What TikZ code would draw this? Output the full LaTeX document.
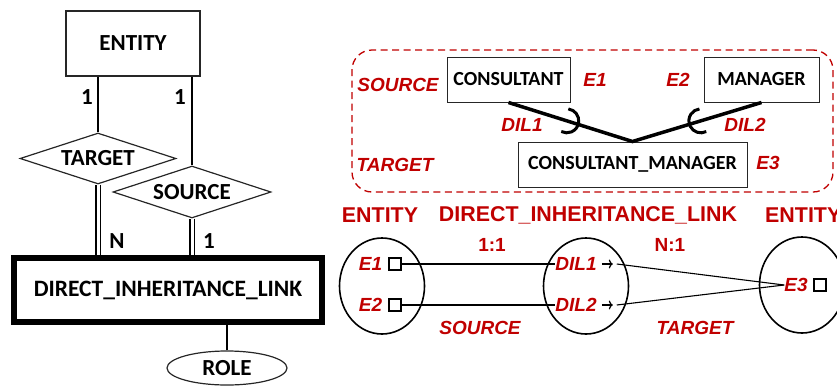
\documentclass[tikz,border=0pt]{standalone}
\usepackage{fontspec}
\setmainfont{Carlito}
\newfontfamily\arialfont{Liberation Sans}
\usetikzlibrary{shapes.geometric,calc,arrows.meta}
\definecolor{dred}{RGB}{192,0,0}
\tikzset{
  er/.style={draw=black!85, line width=1.2pt, inner sep=0pt, font=\fontsize{23}{26}\selectfont\bfseries},
  relbox/.style={er, diamond, shape aspect=3.1},
  lbl/.style={inner sep=0pt, font=\fontsize{23}{26}\selectfont\bfseries},
  cbox/.style={draw=black!85, line width=1pt, inner sep=0pt, minimum height=45pt, font=\fontsize{20}{24}\selectfont\bfseries},
  rtxt/.style={text=dred, inner sep=0pt, font=\arialfont\fontsize{19}{22}\selectfont\bfseries\itshape},
  rhead/.style={text=dred, inner sep=0pt, font=\arialfont\fontsize{21.4}{24}\selectfont\bfseries},
  rnum/.style={text=dred, inner sep=0pt, font=\arialfont\fontsize{19}{22}\selectfont\bfseries},
  setc/.style={draw, ellipse, line width=1.6pt, minimum width=85pt, minimum height=96pt, inner sep=0pt},
  elem/.style={draw, line width=2pt, minimum size=12pt, inner sep=0pt},
  link/.style={line width=1.1pt},
  inh/.style={line width=3.5pt},
  hook/.style={line width=3pt},
  tip/.style={line width=1.2pt, -{To[length=4pt,width=9pt]}},
}
\begin{document}
\begin{tikzpicture}[x=1pt,y=1pt]
\useasboundingbox (0,0) rectangle (837,-386);

% ---- ER schema ----
\node[er, minimum width=134pt, minimum height=65pt] (entity) at (133,-43.5) {ENTITY};
\node[relbox, minimum width=156pt, minimum height=51pt] (target) at (98,-158.5) {TARGET};
\node[relbox, minimum width=158pt, minimum height=52pt] (source) at (192,-192) {SOURCE};
\node[draw, line width=6pt, minimum width=308pt, minimum height=64pt, inner sep=0pt,
      font=\fontsize{23.5}{26}\selectfont\bfseries] (dil) at (168,-290) {DIRECT\_INHERITANCE\_LINK};
\node[er, ellipse, minimum width=120pt, minimum height=34pt] (role) at (227,-368) {ROLE};

\draw[link] (target.north) -- (target.north |- entity.south);
\draw[link] (source.north) -- (source.north |- entity.south);
\draw[link, double, double distance=3pt] (target.south) -- (target.south |- dil.north);
\draw[link, double, double distance=3pt] (source.south) -- (source.south |- dil.north);
\draw[link] (role.north) -- (role.north |- dil.south);

\node[lbl] (c1) at (87,-97) {1};
\node[lbl] (c2) at (180,-97) {1};
\node[lbl] (c3) at (117,-241) {N};
\node[lbl] (c4) at (209,-241) {1};

% ---- instance example ----
\node[draw=dred, line width=1.3pt, dash pattern=on 7pt off 4.5pt, rounded corners=20pt,
      minimum width=481pt, minimum height=142pt, inner sep=0pt] (group) at (592.5,-121) {};
\node[rtxt] (srcl) at (398,-85) {SOURCE};
\node[rtxt] (tgtl) at (395,-165) {TARGET};
\node[cbox, minimum width=123pt] (cons) at (508.5,-79.5) {CONSULTANT};
\node[cbox, minimum width=115pt] (mgr) at (761.5,-79.5) {MANAGER};
\node[cbox, minimum width=229pt] (cm) at (632.5,-164.5) {CONSULTANT\_MANAGER};
\node[rtxt] (te1) at (595,-80) {E1};
\node[rtxt] (te2) at (678,-80) {E2};
\node[rtxt] (te3) at (768,-163) {E3};
\node[rtxt] (tdil1) at (522,-125) {DIL1};
\node[rtxt] (tdil2) at (745,-125) {DIL2};

\draw[inh] (cons.south) -- (cm.north) -- (mgr.south);
\path (cons.south) -- (cm.north) coordinate[pos=0.47] (h1);
\path (mgr.south) -- (cm.north) coordinate[pos=0.47] (h2);
\draw[hook] let \p1=($(cm.north)-(cons.south)$), \n1={atan2(\y1,\x1)},
  \n2={\n1+100}, \n3={\n1-100} in
  ([shift={(\n2:12pt)}]h1) arc[start angle=\n2, end angle=\n3, radius=12pt];
\draw[hook] let \p1=($(cm.north)-(mgr.south)$), \n1={atan2(\y1,\x1)},
  \n2={\n1+100}, \n3={\n1-100} in
  ([shift={(\n2:12pt)}]h2) arc[start angle=\n2, end angle=\n3, radius=12pt];

% ---- set view ----
\node[rhead] (hent1) at (380,-215) {ENTITY};
\node[rhead] (hdil) at (588,-215) {DIRECT\_INHERITANCE\_LINK};
\node[rhead, anchor=west] (hent2) at (765,-215) {ENTITY};
\node[rnum] (r11) at (492,-245) {1:1};
\node[rnum] (rn1) at (670,-245) {N:1};
\node[setc] (set1) at (382,-286) {};
\node[setc] (set2) at (586,-286) {};
\node[setc] (set3) at (802,-285) {};
\node[rtxt] (e1) at (370.5,-264) {E1};
\node[elem] (s1) at (395,-264) {};
\node[rtxt] (e2) at (370.5,-305) {E2};
\node[elem] (s2) at (395,-305) {};
\node[rtxt] (d1) at (576,-264) {DIL1};
\node[rtxt] (d2) at (576,-305) {DIL2};
\node[rtxt] (e3) at (796,-285) {E3};
\node[elem] (s3) at (819.5,-285) {};
\node[rtxt] (bsrc) at (480,-328) {SOURCE};
\node[rtxt] (btgt) at (695,-328) {TARGET};

\draw[link] (s1) -- (d1);
\draw[link] (s2) -- (d2);
\draw[tip] ([xshift=5pt]d1.east) -- ++(11pt,0) coordinate (a1);
\draw[tip] ([xshift=5pt]d2.east) -- ++(11pt,0) coordinate (a2);
\draw[link] ([xshift=4pt]a1) -- (e3.west);
\draw[link] ([xshift=4pt]a2) -- (e3.west);
\end{tikzpicture}
\end{document}
